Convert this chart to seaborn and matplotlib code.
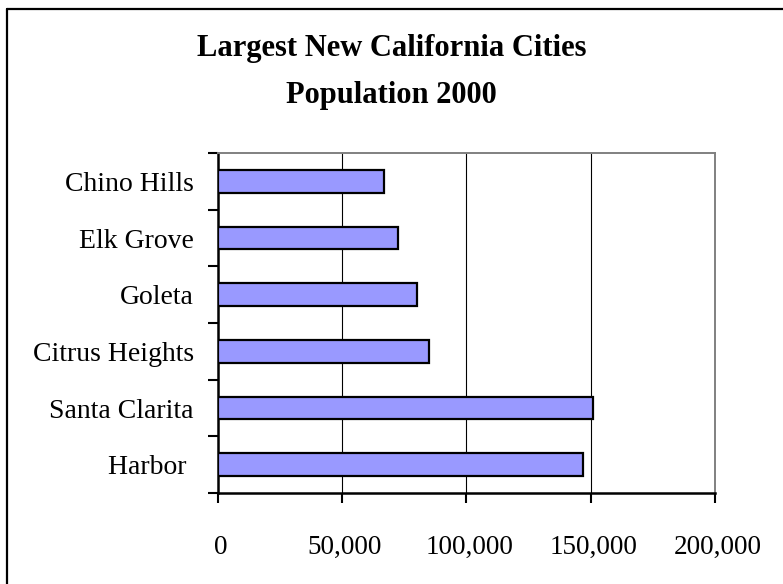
import matplotlib
matplotlib.use("Agg")
import matplotlib.pyplot as plt
from matplotlib.lines import Line2D
from matplotlib.ticker import FuncFormatter, FixedLocator
import matplotlib.transforms as mtransforms
import seaborn as sns
import pandas as pd

cities = ["Chino Hills", "Elk Grove", "Goleta", "Citrus Heights", "Santa Clarita", "Harbor "]
population = [66800, 72700, 80300, 85100, 151100, 146800]
x_ticks = [0, 50000, 100000, 150000, 200000]
title = "Largest New California Cities\nPopulation 2000"

df = pd.DataFrame({"city": cities, "population": population})

sns.set_style("white")
plt.rcParams["font.family"] = ["Liberation Serif", "DejaVu Serif"]
plt.rcParams["text.color"] = "black"
plt.rcParams["xtick.color"] = "black"
plt.rcParams["ytick.color"] = "black"
plt.rcParams["axes.labelcolor"] = "black"

fig = plt.figure(figsize=(7.83, 5.84), dpi=100)
ax = fig.add_axes([217.5 / 783, 1 - 493 / 584, (715 - 217.5) / 783, (493 - 153) / 584])

sns.barplot(data=df, x="population", y="city", orient="h", color="#9999FF",
            saturation=1, width=0.4, edgecolor="black", linewidth=1.6, ax=ax, zorder=3)

ax.set_xlim(0, 200000)
ax.set_ylim(5.5, -0.5)
ax.set_xlabel("")
ax.set_ylabel("")

ax.xaxis.set_major_locator(FixedLocator(x_ticks))
ax.xaxis.set_major_formatter(FuncFormatter(lambda v, p: f"{int(v):,}"))
for v in x_ticks[1:-1]:
    ax.axvline(v, color="black", lw=0.8, zorder=1)

ax.tick_params(axis="x", which="major", bottom=True, direction="out", length=7.5, width=1.5,
               color="black", labelcolor="black", labelsize=19.5, pad=23)
ax.tick_params(axis="y", which="major", left=True, length=0, labelsize=20, pad=17,
               labelcolor="black")
ax.yaxis.set_minor_locator(FixedLocator([i - 0.5 for i in range(len(cities) + 1)]))
ax.tick_params(axis="y", which="minor", left=True, direction="out", length=7.5, width=1.5,
               color="black")

offset = mtransforms.ScaledTranslation(3 / 100, 0, fig.dpi_scale_trans)
for lab in ax.get_xticklabels():
    lab.set_transform(lab.get_transform() + offset)

for side in ["left", "bottom"]:
    ax.spines[side].set_color("black")
    ax.spines[side].set_linewidth(1.8)
    ax.spines[side].set_visible(True)
for side in ["top", "right"]:
    ax.spines[side].set_color("#808080")
    ax.spines[side].set_linewidth(1.4)
    ax.spines[side].set_visible(True)

fig.text(0.5, 1 - 72 / 584, title, ha="center", va="center", fontsize=22,
         fontweight="bold", linespacing=1.8, color="black")

fig.add_artist(Line2D([7 / 783, 1.0], [1 - 9 / 584, 1 - 9 / 584], color="black", lw=1.6,
                      transform=fig.transFigure))
fig.add_artist(Line2D([7 / 783, 7 / 783], [1 - 9 / 584, 0.0], color="black", lw=1.6,
                      transform=fig.transFigure))

fig.savefig("out.png", dpi=100, facecolor="white")
